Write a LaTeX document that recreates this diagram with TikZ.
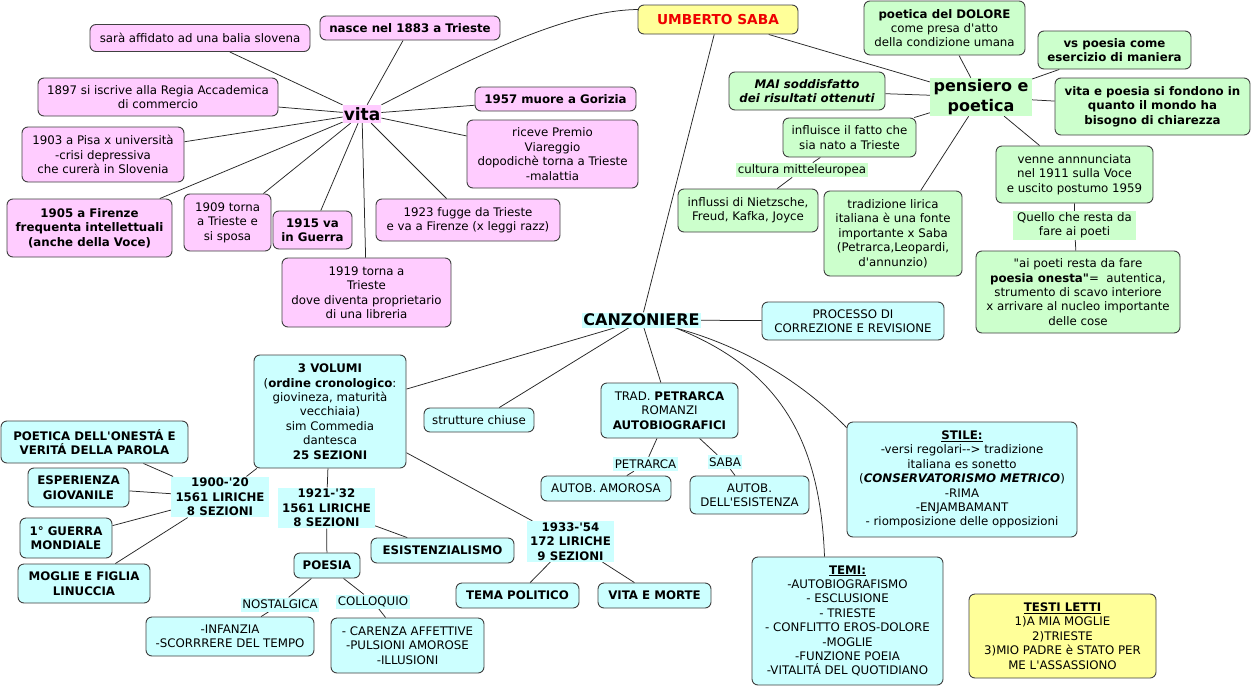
\documentclass[tikz,border=0pt]{standalone}
\usepackage{fontspec}
\setmainfont{DejaVu Sans}[Ligatures=TeXOff]
\usetikzlibrary{calc}
\definecolor{pinkc}{HTML}{FFCCFF}
\definecolor{greenc}{HTML}{CCFFCC}
\definecolor{cyanc}{HTML}{CCFFFF}
\definecolor{yellc}{HTML}{FFFF99}
\definecolor{redc}{HTML}{EE0000}
\pgfdeclarelayer{bg}
\pgfsetlayers{bg,main}
\newcommand\fs{\fontsize{11.8}{14.4}\selectfont}
\begin{document}
\begin{tikzpicture}[x=1pt,y=-1pt,
 box/.style={draw=black!75, line width=0.9pt, rounded corners=6pt, align=center, inner sep=2pt, font=\fs},
 pbox/.style={box, fill=pinkc},
 gbox/.style={box, fill=greenc},
 cbox/.style={box, fill=cyanc},
 ybox/.style={box, fill=yellc},
 wh/.style 2 args={minimum width=#1pt, minimum height=#2pt},
 lab/.style={inner sep=1.5pt, align=center, font=\fs, minimum height=14pt},
 conn/.style={draw=black!85, line width=0.75pt},
 bf/.style={font=\fs\bfseries}
]
\useasboundingbox (0,0) rectangle (1255,688);

% ---------- vita ----------
\node[inner sep=1pt, fill=pinkc, minimum height=18pt, font=\fontsize{17}{20}\selectfont\bfseries] (vita) at (362,114) {vita};
\node[pbox, wh={180}{24}, bf] (nasce) at (410,28) {nasce nel 1883 a Trieste};
\node[pbox, wh={220}{27}] (balia) at (200,38) {sarà affidato ad una balia slovena};
\node[pbox, wh={240}{38}] (r1897) at (158,97) {1897 si iscrive alla Regia Accademica\\di commercio};
\node[pbox, wh={161}{24}, bf] (r1957) at (555.5,99) {1957 muore a Gorizia};
\node[pbox, wh={171}{68}] (riceve) at (552.5,154) {riceve Premio\\Viareggio\\dopodichè torna a Trieste\\-malattia};
\node[pbox, wh={162}{55}] (r1903) at (103,154.5) {1903 a Pisa x università\\-crisi depressiva\\che curerà in Slovenia};
\node[pbox, wh={165}{58}, bf] (r1905) at (89.5,228) {1905 a Firenze\\frequenta intellettuali\\(anche della Voce)};
\node[pbox, wh={87}{57}] (r1909) at (227.5,222.5) {1909 torna\\a Trieste e\\si sposa};
\node[pbox, wh={79}{38}, bf] (r1915) at (312.5,230) {1915 va\\in Guerra};
\node[pbox, wh={184}{42}] (r1923) at (468,220) {1923 fugge da Trieste\\e va a Firenze (x leggi razz)};
\node[pbox, wh={169}{69}] (r1919) at (366.5,292.5) {1919 torna a\\Trieste\\dove diventa proprietario\\di una libreria};

% ---------- title ----------
\node[ybox, wh={160}{29}, text=redc, font=\fontsize{13.7}{16}\selectfont\bfseries] (saba) at (718,19.5) {UMBERTO SABA};

% ---------- pensiero e poetica ----------
\node[inner sep=1pt, fill=greenc, align=center, minimum width=102pt, minimum height=38pt, font=\fontsize{16}{19.7}\selectfont\bfseries] (pens) at (981,97) {pensiero e\\poetica};
\node[gbox, wh={161}{54}] (dolore) at (944.5,28) {\textbf{poetica del DOLORE}\\come presa d'atto\\della condizione umana};
\node[gbox, wh={153}{38}, bf] (vspo) at (1114.5,50) {vs poesia come\\esercizio di maniera};
\node[gbox, wh={156}{38}, font=\fs\bfseries\itshape] (mai) at (807,91) {MAI soddisfatto\\dei risultati ottenuti};
\node[gbox, wh={195}{57}, bf] (vitapo) at (1152.5,106.5) {vita e poesia si fondono in\\quanto il mondo ha\\bisogno di chiarezza};
\node[gbox, wh={133}{39}] (influ) at (849.5,137.5) {influisce il fatto che\\sia nato a Trieste};
\node[lab, fill=greenc] (cult) at (802,170) {cultura mitteleuropea};
\node[gbox, wh={140}{43}] (influssi) at (748,210.5) {influssi di Nietzsche,\\Freud, Kafka, Joyce};
\node[gbox, wh={138}{85}] (tradiz) at (893,233.5) {tradizione lirica\\italiana è una fonte\\importante x Saba\\(Petrarca,Leopardi,\\d'annunzio)};
\node[gbox, wh={157}{57}] (venne) at (1074.5,174.5) {venne annnunciata\\nel 1911 sulla Voce\\e uscito postumo 1959};
\node[lab, fill=greenc, minimum width=123pt] (quello) at (1074.5,225.5) {Quello che resta da\\fare ai poeti};
\node[gbox, wh={204}{82}] (aipoeti) at (1078,292) {"ai poeti resta da fare\\\textbf{poesia onesta"}=\ \ autentica,\\strumento di scavo interiore\\x arrivare al nucleo importante\\delle cose};

% ---------- canzoniere ----------
\node[inner sep=0pt, fill=cyanc, minimum height=15pt, minimum width=119pt, font=\fontsize{16}{19}\selectfont\bfseries] (canz) at (641.5,320) {CANZONIERE};
\node[cbox, wh={182}{38}] (proc) at (853,321) {PROCESSO DI\\CORREZIONE E REVISIONE};
\node[cbox, wh={137}{55}] (trad) at (669.5,410.5) {TRAD. \textbf{PETRARCA}\\ROMANZI\\\textbf{AUTOBIOGRAFICI}};
\node[lab, fill=cyanc] (petl) at (645.5,464) {PETRARCA};
\node[lab, fill=cyanc] (sabl) at (725,462) {SABA};
\node[cbox, wh={130}{25}] (amor) at (606,488.5) {AUTOB. AMOROSA};
\node[cbox, wh={119}{38}] (esis) at (749.5,495) {AUTOB.\\DELL'ESISTENZA};
\node[cbox, wh={230}{115}] (stile) at (962,479.5) {\underline{\textbf{STILE:}}\\-versi regolari--> tradizione\\italiana es sonetto\\(\textbf{\textit{CONSERVATORISMO METRICO}})\\-RIMA\\-ENJAMBAMANT\\- riomposizione delle opposizioni};
\node[cbox, wh={191}{128}] (temi) at (847.5,621) {\underline{\textbf{TEMI:}}\\-AUTOBIOGRAFISMO\\- ESCLUSIONE\\- TRIESTE\\- CONFLITTO EROS-DOLORE\\-MOGLIE\\-FUNZIONE POEIA\\-VITALITÁ DEL QUOTIDIANO};
\node[ybox, wh={187}{84}] (testi) at (1062.5,636) {\underline{\textbf{TESTI LETTI}}\\1)A MIA MOGLIE\\2)TRIESTE\\3)MIO PADRE è STATO PER\\ME L'ASSASSIONO};
\node[cbox, wh={152}{113}] (vol) at (330,411.5) {\textbf{3 VOLUMI}\\(\textbf{ordine cronologico}:\\giovineza, maturità\\vecchiaia)\\sim Commedia\\dantesca\\\textbf{25 SEZIONI}};
\node[cbox, wh={110}{24}] (strut) at (479,420) {strutture chiuse};
\node[cbox, wh={187}{42}, bf] (onesta) at (94.5,442) {POETICA DELL'ONESTÁ E\\VERITÁ DELLA PAROLA};
\node[cbox, wh={101}{39}, bf] (esper) at (78.5,487.5) {ESPERIENZA\\GIOVANILE};
\node[lab, fill=cyanc, font=\fs\bfseries, minimum width=98pt] (l1900) at (220,497) {1900-'20\\1561 LIRICHE\\8 SEZIONI};
\node[cbox, wh={92}{40}, bf] (guerra) at (66,538) {1° GUERRA\\MONDIALE};
\node[cbox, wh={132}{39}, bf] (moglie) at (84,583.5) {MOGLIE E FIGLIA\\LINUCCIA};
\node[lab, fill=cyanc, font=\fs\bfseries, minimum width=97pt] (l1921) at (326.5,508) {1921-'32\\1561 LIRICHE\\8 SEZIONI};
\node[cbox, wh={66}{25}, bf] (poesia) at (327,565.5) {POESIA};
\node[cbox, wh={143}{25}, bf] (esist) at (442.5,550.5) {ESISTENZIALISMO};
\node[lab, fill=cyanc, font=\fs\bfseries, minimum width=87pt] (l1933) at (570.5,541.5) {1933-'54\\172 LIRICHE\\9 SEZIONI};
\node[cbox, wh={123}{25}, bf] (polit) at (517.5,595.5) {TEMA POLITICO};
\node[cbox, wh={113}{25}, bf] (vimo) at (654.5,595.5) {VITA E MORTE};
\node[lab, fill=cyanc] (nost) at (280,604.5) {NOSTALGICA};
\node[lab, fill=cyanc] (coll) at (373,601.5) {COLLOQUIO};
\node[cbox, wh={168}{39}] (infan) at (230,636.5) {-INFANZIA\\-SCORRRERE DEL TEMPO};
\node[cbox, wh={153}{55}] (caren) at (407.5,645.5) {- CARENZA AFFETTIVE\\-PULSIONI AMOROSE\\-ILLUSIONI};

% ---------- connectors ----------
\begin{pgfonlayer}{bg}
\fill[white] (0,0) rectangle (1255,688);
\foreach \n in {nasce,balia,r1897,r1957,riceve,r1903,r1905,r1909,r1915,r1923,r1919}
  \draw[conn] (vita) -- (\n);
\draw[conn] (vita.north east) .. controls (450,70) and (560,10) .. ($(saba.west)+(1,-10)$);
\draw[conn] (saba) -- (pens);
\draw[conn] (saba) -- (canz);
\foreach \n in {dolore,vspo,mai,vitapo,influ,tradiz,venne}
  \draw[conn] (pens) -- (\n);
\draw[conn] (influ) -- (cult) -- (influssi);
\draw[conn] (venne) -- (quello) -- (aipoeti);
\foreach \n in {proc,trad,vol,strut}
  \draw[conn] (canz) -- (\n);
\draw[conn] ($(canz.south)+(33,0)$) .. controls (740,345) and (800,380) .. ($(stile.north west)+(0,6)$);
\draw[conn] ($(canz.south)+(36,1)$) .. controls (780,370) and (820,440) .. ($(temi.north)+(-23,0)$);
\draw[conn] (trad) -- (petl) -- (amor);
\draw[conn] (trad) -- (sabl) -- (esis);
\draw[conn] (vol) -- (l1900);
\draw[conn] (vol) -- (l1921);
\draw[conn] (vol) -- (l1933);
\foreach \n in {onesta,esper,guerra,moglie}
  \draw[conn] (l1900) -- (\n);
\draw[conn] (l1921) -- (poesia);
\draw[conn] (l1921) -- (esist);
\draw[conn] (poesia) -- (nost) -- (infan);
\draw[conn] (poesia) -- (coll) -- (caren);
\draw[conn] (l1933) -- (polit);
\draw[conn] (l1933) -- (vimo);
\end{pgfonlayer}
\end{tikzpicture}
\end{document}
